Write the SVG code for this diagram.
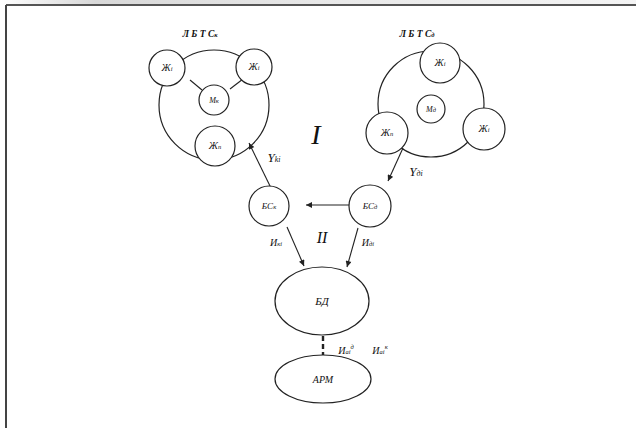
<svg xmlns="http://www.w3.org/2000/svg" width="636" height="428" viewBox="0 0 636 428">
<defs>
<linearGradient id="sh" x1="0" y1="0" x2="1" y2="0">
<stop offset="0" stop-color="#ffffff"/>
<stop offset="0.15" stop-color="#d8d8d8"/>
<stop offset="0.5" stop-color="#e8e8e8"/>
<stop offset="1" stop-color="#f4f4f4"/>
</linearGradient>
<marker id="ah" viewBox="0 0 10 10" refX="10" refY="5" markerWidth="8" markerHeight="6" orient="auto" markerUnits="userSpaceOnUse">
<path d="M0,0 L10,5 L0,10 z" fill="#222"/>
</marker>
</defs>
<style>
.n{fill:#fff;stroke:#222;stroke-width:1.2}
.r{fill:none;stroke:#222;stroke-width:1.2}
.c{stroke:#222;stroke-width:1.1;fill:none}
.t{font-family:"Liberation Serif","Times New Roman",serif;font-style:italic;fill:#111;text-anchor:middle}
.s{font-size:10px}
.sub{font-size:6.5px}
</style>
<rect x="0" y="0" width="636" height="428" fill="#fff"/>
<rect x="0" y="0" width="636" height="5" fill="url(#sh)"/>
<line x1="6" y1="5" x2="636" y2="5" stroke="#555" stroke-width="2"/>
<line x1="6" y1="5" x2="6" y2="428" stroke="#444" stroke-width="2"/>

<g id="ring-k"><circle class="r" cx="214" cy="105" r="55"/></g>
<g id="ring-d"><circle class="r" cx="431" cy="104" r="53"/></g>

<g id="connectors">
<line class="c" x1="190" y1="80" x2="202" y2="90"/>
<line class="c" x1="243" y1="79" x2="230" y2="89"/>
<line class="c" x1="271" y1="188" x2="249" y2="143" marker-end="url(#ah)"/>
<line class="c" x1="403" y1="148" x2="388" y2="181" marker-end="url(#ah)"/>
<line class="c" x1="349" y1="205" x2="306" y2="205" marker-end="url(#ah)"/>
<line class="c" x1="287" y1="227" x2="304" y2="266" marker-end="url(#ah)"/>
<line class="c" x1="358" y1="228" x2="347" y2="267" marker-end="url(#ah)"/>
<line x1="323" y1="336" x2="323" y2="356" stroke="#222" stroke-width="2.4" stroke-dasharray="5,3"/>
</g>

<text class="t" x="200" y="37" style="font-size:9.5px;font-weight:bold">Л Б Т С<tspan class="sub">к</tspan></text>
<text class="t" x="417" y="37" style="font-size:9.5px;font-weight:bold">Л Б Т С<tspan class="sub">д</tspan></text>

<g id="zh-k1"><circle class="n" cx="167" cy="68" r="18"/><text class="t s" x="167" y="71">Ж<tspan class="sub">i</tspan></text></g>
<g id="zh-k2"><circle class="n" cx="254" cy="67" r="18"/><text class="t s" x="254" y="70">Ж<tspan class="sub">i</tspan></text></g>
<g id="m-k"><circle class="n" cx="214" cy="100" r="15"/><text class="t" x="214" y="103" style="font-size:8px">М<tspan class="sub">к</tspan></text></g>
<g id="zh-kn"><circle class="n" cx="215" cy="146" r="20"/><text class="t s" x="215" y="149">Ж<tspan class="sub">п</tspan></text></g>

<g id="zh-d1"><circle class="n" cx="440" cy="63" r="20"/><text class="t s" x="440" y="66">Ж<tspan class="sub">i</tspan></text></g>
<g id="m-d"><circle class="n" cx="431" cy="109" r="14"/><text class="t" x="431" y="112" style="font-size:8px">М<tspan class="sub">д</tspan></text></g>
<g id="zh-dn"><circle class="n" cx="387" cy="133" r="21"/><text class="t s" x="387" y="136">Ж<tspan class="sub">п</tspan></text></g>
<g id="zh-d2"><circle class="n" cx="484" cy="129" r="21"/><text class="t s" x="484" y="132">Ж<tspan class="sub">i</tspan></text></g>

<g id="bs-k"><circle class="n" cx="269" cy="206" r="20"/><text class="t" x="269" y="209" style="font-size:9px">БС<tspan class="sub">к</tspan></text></g>
<g id="bs-d"><circle class="n" cx="370" cy="206" r="21"/><text class="t" x="370" y="209" style="font-size:9px">БС<tspan class="sub">д</tspan></text></g>

<g id="bd"><ellipse class="n" cx="322" cy="301" rx="47" ry="34"/><text class="t" x="322" y="305" style="font-size:11px">БД</text></g>
<g id="arm"><ellipse class="n" cx="323" cy="379" rx="48" ry="24"/><text class="t" x="323" y="383" style="font-size:10px">АРМ</text></g>

<text class="t" x="316" y="144" style="font-size:28px">I</text>
<text class="t" x="322" y="243" style="font-size:16px">II</text>
<text class="t" x="274" y="162" style="font-size:13px">Y<tspan style="font-size:8px">ki</tspan></text>
<text class="t" x="416" y="176" style="font-size:13px">Y<tspan style="font-size:8px">дi</tspan></text>
<text class="t" x="276" y="246" style="font-size:10px">И<tspan class="sub">кi</tspan></text>
<text class="t" x="368" y="246" style="font-size:10px">И<tspan class="sub">дi</tspan></text>
<text class="t" x="346" y="354" style="font-size:10px">И<tspan class="sub">аi</tspan><tspan class="sub" dy="-5">д</tspan></text>
<text class="t" x="380" y="354" style="font-size:10px">И<tspan class="sub">аi</tspan><tspan class="sub" dy="-5">к</tspan></text>
</svg>
